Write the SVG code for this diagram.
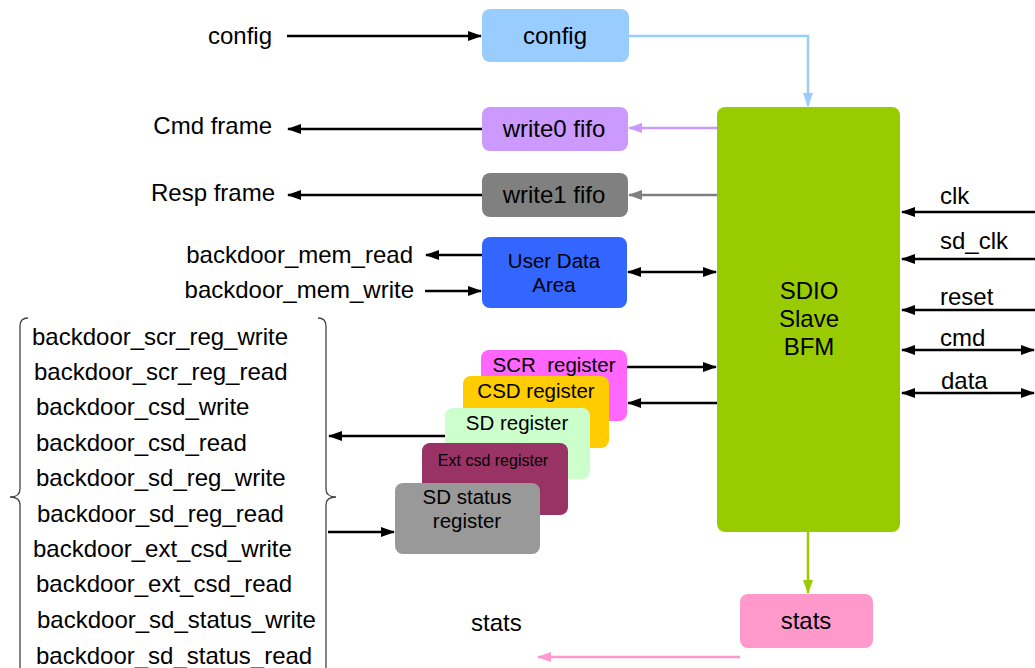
<svg xmlns="http://www.w3.org/2000/svg" width="1035" height="668" viewBox="0 0 1035 668">
<style>
text{font-family:"Liberation Sans",Arial,sans-serif;fill:#000}
.lbl{font-size:24px}
.bl{font-size:24px;text-anchor:middle}
.rl{font-size:20.5px;text-anchor:middle}
.ln{stroke:#000;stroke-width:2.5;fill:none}
</style>
<defs>
<marker id="ak" markerUnits="userSpaceOnUse" markerWidth="14" markerHeight="10" refX="13" refY="5" orient="auto-start-reverse"><path d="M0,0L14,5L0,10z" fill="#000"/></marker>
<marker id="ab" markerUnits="userSpaceOnUse" markerWidth="14" markerHeight="10" refX="13" refY="5" orient="auto"><path d="M0,0L14,5L0,10z" fill="#99ccff"/></marker>
<marker id="ap" markerUnits="userSpaceOnUse" markerWidth="14" markerHeight="10" refX="13" refY="5" orient="auto"><path d="M0,0L14,5L0,10z" fill="#cc99ff"/></marker>
<marker id="ag" markerUnits="userSpaceOnUse" markerWidth="14" markerHeight="10" refX="13" refY="5" orient="auto"><path d="M0,0L14,5L0,10z" fill="#808080"/></marker>
<marker id="agr" markerUnits="userSpaceOnUse" markerWidth="14" markerHeight="10" refX="13" refY="5" orient="auto"><path d="M0,0L14,5L0,10z" fill="#99cc00"/></marker>
<marker id="apk" markerUnits="userSpaceOnUse" markerWidth="14" markerHeight="10" refX="13" refY="5" orient="auto"><path d="M0,0L14,5L0,10z" fill="#ff99cc"/></marker>
</defs>
<rect width="1035" height="668" fill="#fff"/>

<g id="connectors">
<line class="ln" x1="287" y1="36" x2="481" y2="36" marker-end="url(#ak)"/>
<polyline points="629,36 808,36 808,106" stroke="#99ccff" stroke-width="2.5" fill="none" marker-end="url(#ab)"/>
<line x1="717" y1="128" x2="629" y2="128" stroke="#cc99ff" stroke-width="2.5" marker-end="url(#ap)"/>
<line x1="717" y1="195" x2="629" y2="195" stroke="#808080" stroke-width="2.5" marker-end="url(#ag)"/>
<line class="ln" x1="482" y1="129" x2="288" y2="129" marker-end="url(#ak)"/>
<line class="ln" x1="482" y1="195" x2="288" y2="195" marker-end="url(#ak)"/>
<line class="ln" x1="482" y1="255" x2="426" y2="255" marker-end="url(#ak)"/>
<line class="ln" x1="425" y1="291" x2="481" y2="291" marker-end="url(#ak)"/>
<line class="ln" x1="628" y1="272" x2="716" y2="272" marker-start="url(#ak)" marker-end="url(#ak)"/>
<line class="ln" x1="627" y1="367" x2="716" y2="367" marker-end="url(#ak)"/>
<line class="ln" x1="717" y1="403" x2="628" y2="403" marker-end="url(#ak)"/>
<line class="ln" x1="445" y1="436" x2="329" y2="436" marker-end="url(#ak)"/>
<line class="ln" x1="328" y1="532" x2="394" y2="532" marker-end="url(#ak)"/>
<line x1="808" y1="532" x2="808" y2="593" stroke="#99cc00" stroke-width="2.5" marker-end="url(#agr)"/>
<line x1="740" y1="657" x2="538" y2="657" stroke="#ff99cc" stroke-width="2.5" marker-end="url(#apk)"/>
<line class="ln" x1="1035" y1="212" x2="902" y2="212" marker-end="url(#ak)"/>
<line class="ln" x1="1035" y1="259" x2="902" y2="259" marker-end="url(#ak)"/>
<line class="ln" x1="1035" y1="310" x2="902" y2="310" marker-end="url(#ak)"/>
<line class="ln" x1="902" y1="350" x2="1034" y2="350" marker-start="url(#ak)" marker-end="url(#ak)"/>
<line class="ln" x1="902" y1="393" x2="1034" y2="393" marker-start="url(#ak)" marker-end="url(#ak)"/>
</g>

<g id="labels">
<text class="lbl" x="272" y="44" text-anchor="end">config</text>
<text class="lbl" x="272" y="134" text-anchor="end">Cmd frame</text>
<text class="lbl" x="275" y="201" text-anchor="end">Resp frame</text>
<text class="lbl" x="413" y="263" text-anchor="end">backdoor_mem_read</text>
<text class="lbl" x="414" y="298" text-anchor="end">backdoor_mem_write</text>
<text class="lbl" x="940" y="204">clk</text>
<text class="lbl" x="940" y="249">sd_clk</text>
<text class="lbl" x="940" y="305">reset</text>
<text class="lbl" x="940" y="346">cmd</text>
<text class="lbl" x="941" y="389">data</text>
<text class="lbl" x="471" y="631">stats</text>
</g>

<g id="backdoor-list">
<path d="M28,318 Q20,318 20,326 L20,489 Q20,497 10,497 Q20,497 20,505 L20,668" stroke="#444" stroke-width="1.3" fill="none"/>
<path d="M318,318 Q326,318 326,326 L326,489 Q326,497 336,497 Q326,497 326,505 L326,668" stroke="#444" stroke-width="1.3" fill="none"/>
<text class="lbl" x="32" y="345">backdoor_scr_reg_write</text>
<text class="lbl" x="34" y="380">backdoor_scr_reg_read</text>
<text class="lbl" x="36" y="415">backdoor_csd_write</text>
<text class="lbl" x="36" y="451">backdoor_csd_read</text>
<text class="lbl" x="36" y="486">backdoor_sd_reg_write</text>
<text class="lbl" x="37" y="522">backdoor_sd_reg_read</text>
<text class="lbl" x="33" y="557">backdoor_ext_csd_write</text>
<text class="lbl" x="36" y="592">backdoor_ext_csd_read</text>
<text class="lbl" x="37" y="628">backdoor_sd_status_write</text>
<text class="lbl" x="36" y="664">backdoor_sd_status_read</text>
</g>

<g id="config">
<rect x="482" y="9" width="147" height="53" rx="8" fill="#99ccff"/>
<text class="bl" x="555" y="44">config</text>
</g>
<g id="write0-fifo">
<rect x="482" y="107" width="146" height="44" rx="8" fill="#cc99ff"/>
<text class="bl" x="554" y="137">write0 fifo</text>
</g>
<g id="write1-fifo">
<rect x="482" y="173" width="146" height="44" rx="8" fill="#808080"/>
<text class="bl" x="554" y="203">write1 fifo</text>
</g>
<g id="user-data-area">
<rect x="482" y="237" width="145" height="71" rx="8" fill="#3366ff"/>
<text class="rl" x="554" y="268">User Data</text>
<text class="rl" x="554" y="292">Area</text>
</g>
<g id="sdio-slave-bfm">
<rect x="717" y="107" width="183" height="425" rx="8" fill="#99cc00"/>
<text class="bl" x="809" y="299">SDIO</text>
<text class="bl" x="809" y="327">Slave</text>
<text class="bl" x="809" y="355">BFM</text>
</g>
<g id="stats">
<rect x="740" y="594" width="133" height="54" rx="8" fill="#ff99cc"/>
<text class="bl" x="806" y="629">stats</text>
</g>
<g id="scr-register">
<rect x="481" y="350" width="146" height="71" rx="8" fill="#ff66ff"/>
<text class="rl" x="554" y="372" xml:space="preserve">SCR  register</text>
</g>
<g id="csd-register">
<rect x="463" y="376" width="146" height="72" rx="8" fill="#ffcc00"/>
<text class="rl" x="536" y="398">CSD register</text>
</g>
<g id="sd-register">
<rect x="445" y="408" width="145" height="71" rx="8" fill="#ccffcc"/>
<text class="rl" x="517" y="430">SD register</text>
</g>
<g id="ext-csd-register">
<rect x="422" y="443" width="146" height="72" rx="8" fill="#993366"/>
<text x="493" y="466" font-size="16" text-anchor="middle">Ext csd register</text>
</g>
<g id="sd-status-register">
<rect x="395" y="483" width="145" height="71" rx="8" fill="#999999"/>
<text class="rl" x="467" y="504">SD status</text>
<text class="rl" x="467" y="528">register</text>
</g>
</svg>
